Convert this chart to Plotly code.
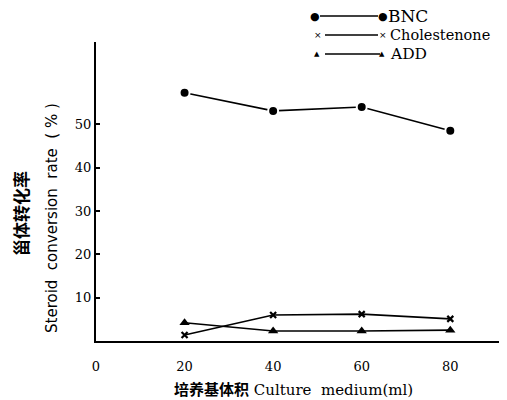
import plotly.graph_objects as go

# ---- data ----
volume = [20, 40, 60, 80]                 # culture medium (ml)
bnc = [57.3, 53.1, 54.0, 48.5]            # BNC conversion (%)
cholestenone = [1.4, 6.0, 6.2, 5.1]       # Cholestenone (%)
add = [4.2, 2.3, 2.3, 2.5]                # ADD (%)
x_ticks = [0, 20, 40, 60, 80]
y_ticks = [10, 20, 30, 40, 50]
series_names = ["BNC", "Cholestenone", "ADD"]

# ---- layout geometry ----
W, H = 507, 400
L, R, T, B = 96, 8, 42, 59
pw, ph = W - L - R, H - T - B


def px(x):
    return (x - L) / pw


def py(y):
    return (H - B - y) / ph


fig = go.Figure()
fig.add_trace(go.Scatter(
    x=volume, y=bnc, mode="lines+markers", name=series_names[0],
    line=dict(color="black", width=1.6),
    marker=dict(symbol="circle", size=10, color="black",
                line=dict(color="white", width=2))))
fig.add_trace(go.Scatter(
    x=volume, y=cholestenone, mode="lines+markers", name=series_names[1],
    line=dict(color="black", width=1.6),
    marker=dict(symbol="x-thin", size=6, color="black",
                line=dict(color="black", width=2.2))))
fig.add_trace(go.Scatter(
    x=volume, y=add, mode="lines+markers", name=series_names[2],
    line=dict(color="black", width=1.6),
    marker=dict(symbol="triangle-up", size=9, color="black")))

shapes = []
annotations = []

# ---- hand-made legend (marker — line — marker label) ----
legend_rows = [
    # name, y, glyph, glyph size, left mk x, line x0, line x1, right mk x, text x, font size
    (series_names[0], 16, "●", 11, 315, 320, 378, 383, 387, 17),
    (series_names[1], 35, "×", 9, 318, 325, 378, 383, 389, 14.5),
    (series_names[2], 54, "▲", 7, 317, 325, 380, 382, 389, 15.5),
]
for name, y, glyph, gs, lx, x0, x1, rx, tx, fs in legend_rows:
    shapes.append(dict(type="line", xref="paper", yref="paper",
                       x0=px(x0), x1=px(x1), y0=py(y), y1=py(y),
                       line=dict(color="black", width=1.5)))
    for mx in (lx, rx):
        annotations.append(dict(xref="paper", yref="paper", x=px(mx), y=py(y),
                                text=glyph, showarrow=False, xanchor="center",
                                yanchor="middle", borderpad=0,
                                font=dict(family="DejaVu Sans", size=gs, color="black")))
    annotations.append(dict(xref="paper", yref="paper", x=px(tx), y=py(y),
                            text=name, showarrow=False, xanchor="left",
                            yanchor="middle", borderpad=0,
                            font=dict(family="DejaVu Serif", size=fs, color="black")))

# ---- axis titles ----
annotations.append(dict(
    xref="paper", yref="paper", x=px(293), y=py(388),
    text="<b><span style='font-family:Noto Sans CJK SC'>培养基体积</span></b> Culture  medium(ml)",
    showarrow=False, xanchor="center", yanchor="middle",
    font=dict(family="DejaVu Serif", size=15, color="black")))
annotations.append(dict(
    xref="paper", yref="paper", x=px(52), y=py(218),
    text="Steroid  conversion  rate  ( % )", textangle=-90,
    showarrow=False, xanchor="center", yanchor="middle",
    font=dict(family="DejaVu Sans", size=15, color="black")))
annotations.append(dict(
    xref="paper", yref="paper", x=px(20), y=py(214),
    text="<b>甾体转化率</b>", textangle=-90,
    showarrow=False, xanchor="center", yanchor="middle",
    font=dict(family="Noto Sans CJK SC", size=17, color="black")))

fig.update_layout(
    width=W, height=H,
    margin=dict(l=L, r=R, t=T, b=B),
    paper_bgcolor="white", plot_bgcolor="white",
    showlegend=False,
    shapes=shapes, annotations=annotations,
    xaxis=dict(range=[0, 91], tickvals=x_ticks, showgrid=False, zeroline=False,
               showline=True, linecolor="black", linewidth=2, ticks="",
               ticklabelstandoff=12,
               tickfont=dict(family="DejaVu Serif", size=13, color="black")),
    yaxis=dict(range=[0, 69], tickvals=y_ticks, showgrid=False, zeroline=False,
               showline=True, linecolor="black", linewidth=2, ticks="inside",
               ticklen=4, tickwidth=1.5, tickcolor="black",
               tickfont=dict(family="DejaVu Serif", size=13, color="black")),
)

fig.write_html("out.html", config={"displayModeBar": False},
               post_script="document.body.style.margin='0';"
                           "document.body.style.overflow='hidden';")
